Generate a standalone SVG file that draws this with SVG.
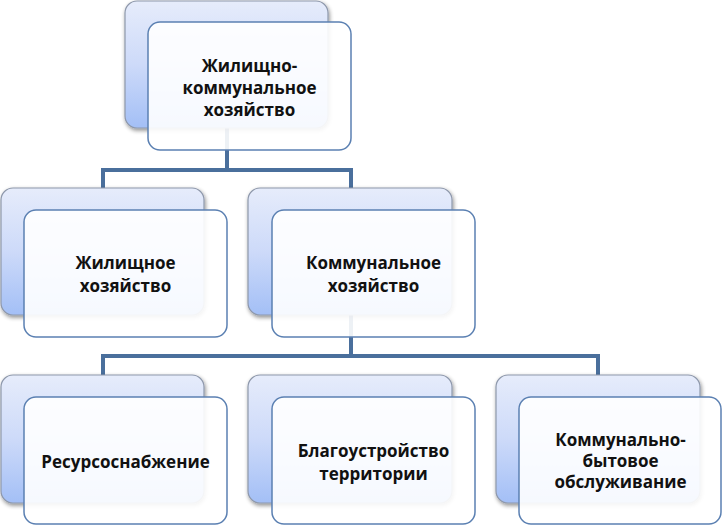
<svg xmlns="http://www.w3.org/2000/svg" width="723" height="526" viewBox="0 0 723 526">
<defs>
<linearGradient id="bg" x1="0" y1="0" x2="0" y2="1">
<stop offset="0" stop-color="#e6ecfb"/>
<stop offset="0.5" stop-color="#cddaf9"/>
<stop offset="1" stop-color="#a3bff6"/>
</linearGradient>
<filter id="sh" x="-10%" y="-10%" width="125%" height="125%">
<feGaussianBlur in="SourceAlpha" stdDeviation="2"/>
<feOffset dx="1" dy="2" result="b"/>
<feComponentTransfer><feFuncA type="linear" slope="0.45"/></feComponentTransfer>
<feMerge><feMergeNode/><feMergeNode in="SourceGraphic"/></feMerge>
</filter>
</defs>
<style>
.back{fill:url(#bg);stroke:#8e98ab;stroke-width:1.2}
.front{fill:#ffffff;fill-opacity:0.9;stroke:#5b80b2;stroke-width:1.5}
.conn{fill:none;stroke:#4a6f9c;stroke-width:4}
text{font-family:"Open Sans","Lato","Liberation Sans",sans-serif;font-weight:bold;font-size:17px;fill:#111;text-anchor:middle}
</style>
<rect width="723" height="526" fill="#ffffff"/>
<g id="connectors">
<path class="conn" d="M227 128 V170 M103 188 V170 H351 V188"/>
<path class="conn" d="M351 315 V356 M103 375 V356 H598 V375"/>
</g>
<g id="n-top">
<rect class="back" x="125" y="1" width="203" height="127" rx="12" filter="url(#sh)"/>
<rect class="front" x="148" y="22" width="203" height="128" rx="12"/>
<text x="249.5" y="72">Жилищно-</text>
<text x="249.5" y="94">коммунальное</text>
<text x="249.5" y="116">хозяйство</text>
</g>
<g id="n-housing">
<rect class="back" x="1" y="188" width="203" height="127" rx="12" filter="url(#sh)"/>
<rect class="front" x="24" y="210" width="203" height="127" rx="12"/>
<text x="125.5" y="269">Жилищное</text>
<text x="125.5" y="292">хозяйство</text>
</g>
<g id="n-communal">
<rect class="back" x="248" y="188" width="204" height="127" rx="12" filter="url(#sh)"/>
<rect class="front" x="272" y="210" width="203" height="127" rx="12"/>
<text x="373.5" y="269">Коммунальное</text>
<text x="373.5" y="292">хозяйство</text>
</g>
<g id="n-resource">
<rect class="back" x="1" y="375" width="203" height="128" rx="12" filter="url(#sh)"/>
<rect class="front" x="24" y="397" width="203" height="127" rx="12"/>
<text x="125.5" y="468">Ресурсоснабжение</text>
</g>
<g id="n-improvement">
<rect class="back" x="248" y="375" width="204" height="128" rx="12" filter="url(#sh)"/>
<rect class="front" x="272" y="397" width="203" height="127" rx="12"/>
<text x="373.5" y="457">Благоустройство</text>
<text x="373.5" y="480">территории</text>
</g>
<g id="n-household">
<rect class="back" x="496" y="375" width="204" height="128" rx="12" filter="url(#sh)"/>
<rect class="front" x="519" y="397" width="202" height="127" rx="12"/>
<text x="620.5" y="446">Коммунально-</text>
<text x="620.5" y="467">бытовое</text>
<text x="620.5" y="488">обслуживание</text>
</g>
</svg>
